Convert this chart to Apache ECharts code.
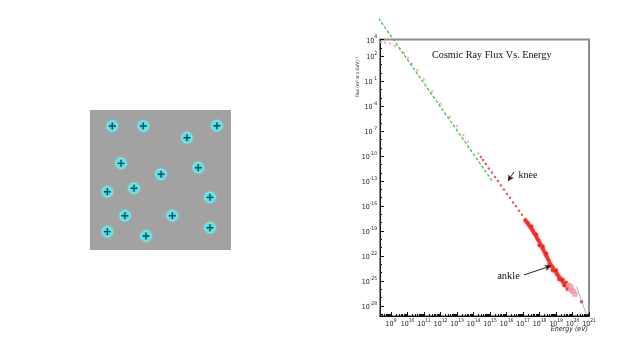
<!DOCTYPE html>
<html><head><meta charset="utf-8">
<script src="https://cdn.jsdelivr.net/npm/echarts@6/dist/echarts.min.js"></script>
<style>html,body{margin:0;padding:0;background:#fff}#c{width:640px;height:360px}</style>
</head><body><div id="c"></div>
<script>
// ---- Left panel: marker positions (arbitrary 0-10 units) ----
const dotPositions = [
  [1.58,8.86],[3.78,8.86],[9.0,8.88],[6.88,8.02],[2.2,6.19],[7.68,5.88],[5.04,5.41],
  [1.23,4.16],[3.12,4.41],[8.51,3.76],[2.48,2.45],[5.84,2.45],[8.51,1.59],[1.23,1.31],[3.97,1.0]
];

// ---- Cosmic ray spectrum: [log10 E(eV), log10 Flux] ----
const lowEnergyFlux = [
  [8.39,3.70],[8.63,3.64],[8.94,3.52],[9.24,3.22],[9.54,2.86],[9.78,2.38],[10.03,1.78],
  [10.27,1.12],[10.6,0.3],[11.0,-0.8],[11.5,-2.2],[12.0,-3.7],[12.57,-5.27],[13.0,-6.4],
  [13.38,-7.46],[13.66,-8.27],[14.29,-9.66]
];
const kneeFlux = [
  [14.45,-10.1],[14.57,-10.47],[14.75,-10.95],[14.93,-11.5],[15.12,-11.98],[15.30,-12.52],
  [15.48,-12.98],[15.66,-13.53],[15.84,-14.0],[16.03,-14.55],[16.21,-15.0],[16.39,-15.56],
  [16.57,-16.02],[16.75,-16.57],[16.94,-17.05],[17.12,-17.6]
];
const ankleFlux = [
  [17.15,-17.7],[17.2,-17.85],[17.26,-18.0],[17.3,-18.05],[17.35,-18.25],[17.4,-18.4],[17.45,-18.5],
  [17.5,-18.7],[17.56,-18.85],[17.6,-18.95],[17.66,-19.2],[17.72,-19.35],[17.78,-19.55],[17.84,-19.8],
  [17.9,-20.0],[17.96,-20.2],[18.03,-20.47],[18.09,-20.7],[18.15,-20.95],[18.21,-21.15],[18.27,-21.4],
  [18.33,-21.63],[18.39,-21.9],[18.45,-22.1],[18.51,-22.35],[18.57,-22.6],[18.63,-22.87],[18.7,-23.1],
  [18.76,-23.3],[18.82,-23.45],[18.88,-23.65],[18.94,-23.79],[19.0,-23.95],[19.06,-24.15],[19.12,-24.3],
  [19.18,-24.5],[19.24,-24.67],[19.3,-24.8],[19.36,-24.95],[19.42,-25.1],[19.48,-25.25],[19.54,-25.35],
  [19.6,-25.5],[19.66,-25.6],[19.72,-25.7],
  [17.5,-18.45],[17.8,-19.4],[18.0,-20.7],[18.2,-20.85],[18.4,-21.7],[18.6,-23.1],[18.8,-23.7],
  [19.0,-23.7],[19.2,-24.8],[19.4,-24.85],[19.5,-25.5],[19.62,-25.25],[19.7,-25.95]
];
const highEnergyFlux = [[19.75,-25.5],[19.85,-25.9],[19.9,-25.7],[19.95,-26.1],[20.05,-26.3],[20.15,-26.6]];
const highEnergyPoints = [[20.55,-27.48]];
const tailLine = [[20.24,-25.66],[20.85,-29.07]];
const powerLawFit = [[7.724,8.02],[15.18,-13.11]];

// ---- Axis ticks / labels (decade exponents) ----
const xLabelExponents = [9,10,11,12,13,14,15,16,17,18,19,20,21];
const yLabelExponents = [4,2,-1,-4,-7,-10,-13,-16,-19,-22,-25,-28];
const yDecadeExponents = [];
for (let e = -29; e <= 4; e++) yDecadeExponents.push(e);
const X_MIN = 8.33, X_MAX = 21, Y_MIN = -29.2, Y_MAX = 4;
const xMinorTicks = [];
for (let d = 8; d < 21; d++) for (let k = 2; k <= 9; k++) {
  const v = d + Math.log10(k);
  if (v > X_MIN && v < X_MAX) xMinorTicks.push(v);
}

// ---- Annotation arrows (data coords) ----
const kneeArrow = [[16.45,-11.91],[16.09,-12.99]];
const ankleArrow = [[17.06,-24.27],[18.69,-23.19]];

const labFont = "'Liberation Sans Narrow','DejaVu Sans Condensed','Liberation Sans',sans-serif";
const rich = {
  b: {fontSize: 7, fontFamily: labFont, color: '#222', verticalAlign: 'bottom', lineHeight: 10},
  s: {fontSize: 5, fontFamily: labFont, color: '#222', verticalAlign: 'top', lineHeight: 10}
};
const expFmt = v => '{b|10}{s|' + Math.round(v) + '}';

const chart = echarts.init(document.getElementById('c'), null, {renderer: 'canvas'});
chart.setOption({
  animation: false,
  backgroundColor: '#fff',
  title: {
    text: 'Cosmic Ray Flux Vs. Energy', left: 427, top: 45,
    textStyle: {fontFamily: "'Liberation Serif','Times New Roman',serif", fontWeight: 'normal', fontSize: 10.2, color: '#111'}
  },
  grid: [
    {left: 380, top: 39.5, width: 209, height: 276.5, show: true, borderColor: '#8c8c8c', borderWidth: 2, backgroundColor: 'transparent'},
    {left: 90, top: 110, width: 141, height: 140, show: true, borderWidth: 0, backgroundColor: '#a2a2a2'}
  ],
  xAxis: [
    {gridIndex: 0, type: 'value', min: X_MIN, max: X_MAX, position: 'bottom',
     axisLine: {show: true, onZero: false, lineStyle: {color: '#111', width: 1}},
     axisTick: {show: true, inside: true, length: 4, customValues: xLabelExponents, lineStyle: {color: '#111'}},
     axisLabel: {show: true, customValues: xLabelExponents, formatter: expFmt, rich: rich, margin: 2},
     splitLine: {show: false}},
    {gridIndex: 0, type: 'value', min: X_MIN, max: X_MAX, position: 'bottom',
     axisLine: {show: false, onZero: false},
     axisTick: {show: true, inside: true, length: 2, customValues: xMinorTicks, lineStyle: {color: '#111'}},
     axisLabel: {show: false}, splitLine: {show: false}},
    {gridIndex: 1, type: 'value', min: 0, max: 10, show: false}
  ],
  yAxis: [
    {gridIndex: 0, type: 'value', min: Y_MIN, max: Y_MAX, position: 'left',
     axisLine: {show: true, onZero: false, lineStyle: {color: '#111', width: 1}},
     axisTick: {show: true, inside: true, length: 4, customValues: yLabelExponents, lineStyle: {color: '#111'}},
     axisLabel: {show: true, customValues: yLabelExponents, formatter: expFmt, rich: rich, margin: 3},
     splitLine: {show: false}},
    {gridIndex: 0, type: 'value', min: Y_MIN, max: Y_MAX, position: 'left',
     axisLine: {show: false, onZero: false},
     axisTick: {show: true, inside: true, length: 2, customValues: yDecadeExponents, lineStyle: {color: '#111'}},
     axisLabel: {show: false}, splitLine: {show: false}},
    {gridIndex: 1, type: 'value', min: 0, max: 10, show: false}
  ],
  series: [
    {type: 'scatter', xAxisIndex: 2, yAxisIndex: 2, data: dotPositions, symbol: 'circle', symbolSize: 10,
     itemStyle: {color: '#2fe2e2', borderColor: '#8ef4f4', borderWidth: 1, shadowBlur: 3, shadowColor: 'rgba(120,255,255,0.9)'}},
    {type: 'scatter', xAxisIndex: 2, yAxisIndex: 2, data: dotPositions,
     symbol: 'path://M4,0h2v4h4v2h-4v4h-2v-4h-4v-2h4z', symbolSize: 7,
     itemStyle: {color: '#0c1c3c'}},

    {type: 'scatter', xAxisIndex: 0, yAxisIndex: 0, data: lowEnergyFlux, symbol: 'circle', symbolSize: 2.5,
     itemStyle: {color: '#f0a2ae'}},
    {type: 'line', xAxisIndex: 0, yAxisIndex: 0, data: powerLawFit, clip: false, symbol: 'none',
     lineStyle: {color: '#3cb93c', width: 1.2, type: [3, 2]}},
    {type: 'scatter', xAxisIndex: 0, yAxisIndex: 0, data: kneeFlux, symbol: 'circle', symbolSize: 2.5,
     itemStyle: {color: '#e23030'},
     markLine: {silent: true, symbol: ['none', 'arrow'], symbolSize: [5, 6], animation: false,
       lineStyle: {color: '#222', width: 1, type: 'solid'}, label: {show: false},
       data: [
         [{coord: kneeArrow[0]}, {coord: kneeArrow[1]}],
         [{coord: ankleArrow[0]}, {coord: ankleArrow[1]}]
       ]}},
    {type: 'scatter', xAxisIndex: 0, yAxisIndex: 0, data: ankleFlux, symbol: 'circle', symbolSize: 4,
     itemStyle: {color: '#e81418', shadowBlur: 2, shadowColor: 'rgba(255,140,110,0.9)'}},
    {type: 'scatter', xAxisIndex: 0, yAxisIndex: 0, data: highEnergyFlux, symbol: 'emptyRect', symbolSize: 3,
     itemStyle: {color: '#f08a9a', borderWidth: 0.8}},
    {type: 'scatter', xAxisIndex: 0, yAxisIndex: 0, data: highEnergyPoints, symbol: 'circle', symbolSize: 3.5,
     itemStyle: {color: '#d01020'}},
    {type: 'line', xAxisIndex: 0, yAxisIndex: 0, data: tailLine, symbol: 'none',
     lineStyle: {color: '#a0a0a0', width: 0.8}}
  ],
  graphic: [
    {type: 'text', x: 528, y: 175, style: {text: 'knee', fontFamily: "'Liberation Serif',serif", fontSize: 10, fill: '#111', align: 'center', verticalAlign: 'middle'}},
    {type: 'text', x: 508.5, y: 276, style: {text: 'ankle', fontFamily: "'Liberation Serif',serif", fontSize: 10.5, fill: '#111', align: 'center', verticalAlign: 'middle'}},
    {type: 'text', x: 358, y: 77, rotation: Math.PI / 2,
     style: {text: 'Flux (m² sr s GeV)⁻¹', fontFamily: labFont, fontSize: 4.6, fill: '#222', align: 'center', verticalAlign: 'middle'}},
    {type: 'text', x: 588, y: 329.5, style: {text: 'Energy (eV)', fontFamily: labFont, fontStyle: 'italic', fontSize: 7, fill: '#222', align: 'right', verticalAlign: 'middle'}}
  ]
});
</script>
</body></html>
